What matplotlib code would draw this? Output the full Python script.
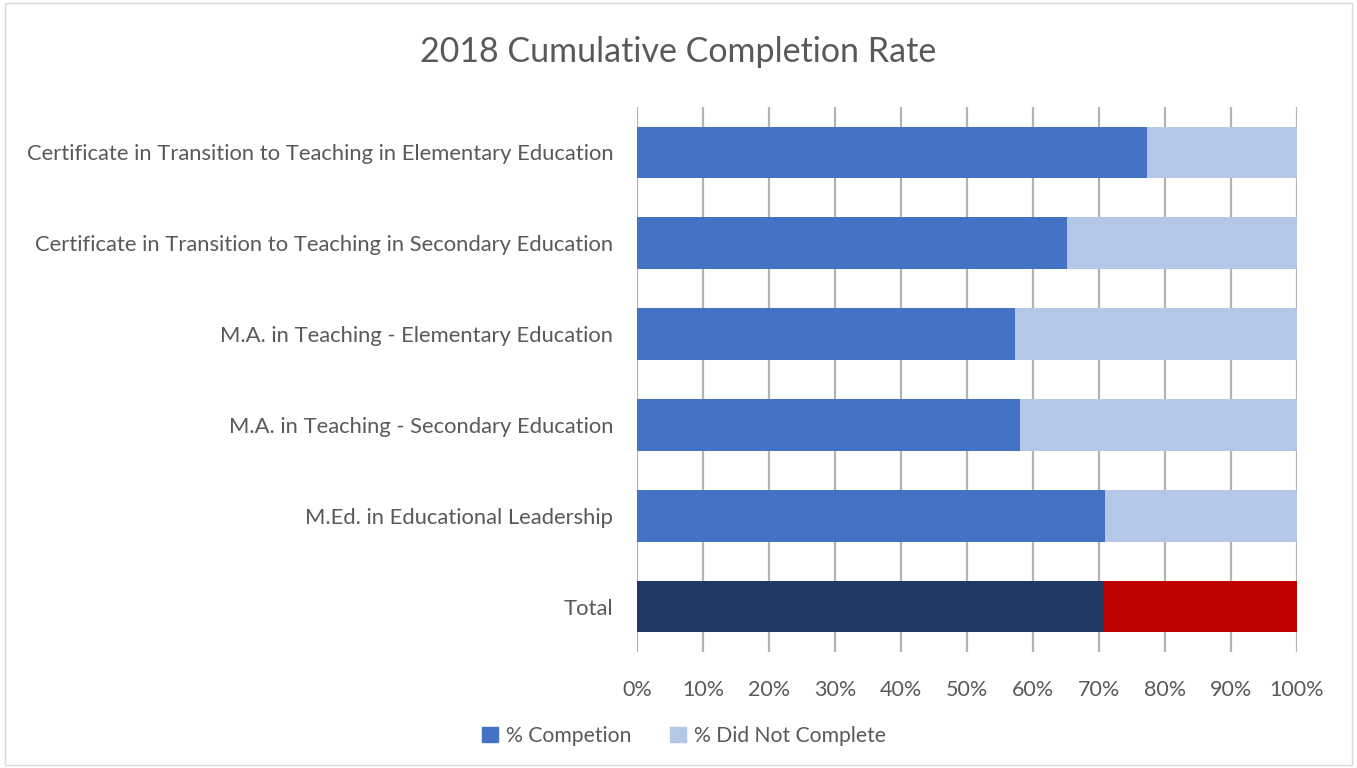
import matplotlib.pyplot as plt
from matplotlib.patches import Patch, Rectangle

plt.rcParams['font.family'] = ['Lato', 'DejaVu Sans']

programs = ['Certificate in Transition to Teaching in Elementary Education',
            'Certificate in Transition to Teaching in Secondary Education',
            'M.A. in Teaching - Elementary Education',
            'M.A. in Teaching - Secondary Education',
            'M.Ed. in Educational Leadership',
            'Total']
completed = [77.3, 65.2, 57.3, 58.1, 70.9, 70.7]
not_completed = [100 - c for c in completed]
ticks = [0, 10, 20, 30, 40, 50, 60, 70, 80, 90, 100]

text_col = '#595959'
done_cols = ['#4472C4'] * 5 + ['#1F3864']
left_cols = ['#B4C7E7'] * 5 + ['#C00000']

fig = plt.figure(figsize=(13.57, 7.68), dpi=100)
ax = fig.add_axes([637 / 1357, 1 - 652 / 768, 660 / 1357, 545 / 768])

y = list(range(len(programs)))
ax.barh(y, completed, height=0.57, color=done_cols, zorder=2)
ax.barh(y, not_completed, left=completed, height=0.57, color=left_cols, zorder=2)

ax.set_xlim(0, 100)
ax.set_ylim(len(programs) - 0.5, -0.5)
ax.set_xticks(ticks)
ax.set_xticklabels([f'{t}%' for t in ticks], fontsize=15.5, color=text_col)
ax.set_yticks(y)
ax.set_yticklabels(programs, fontsize=15.8, color=text_col)
ax.tick_params(length=0, pad=20, axis='x')
ax.tick_params(length=0, pad=17, axis='y')
ax.grid(axis='x', color='#B3B3B3', linewidth=1.6, zorder=0)
for s in ax.spines.values():
    s.set_visible(False)

fig.text(0.5, 1 - 52 / 768, '2018 Cumulative Completion Rate', ha='center', va='center',
         fontsize=24.5, color=text_col)

handles = [Patch(color='#4472C4', label='% Competion'),
           Patch(color='#B4C7E7', label='% Did Not Complete')]
fig.legend(handles=handles, loc='center', bbox_to_anchor=(684 / 1357, 1 - 736 / 768), ncol=2,
           frameon=False, fontsize=15.2, labelcolor=text_col, handlelength=0.75, handleheight=0.75,
           columnspacing=1.8, handletextpad=0.4)

fig.patches.append(Rectangle((0.004, 0.004), 0.992, 0.992, transform=fig.transFigure,
                             fill=False, edgecolor='#D9D9D9', linewidth=1))

fig.savefig('out.png', dpi=100)
